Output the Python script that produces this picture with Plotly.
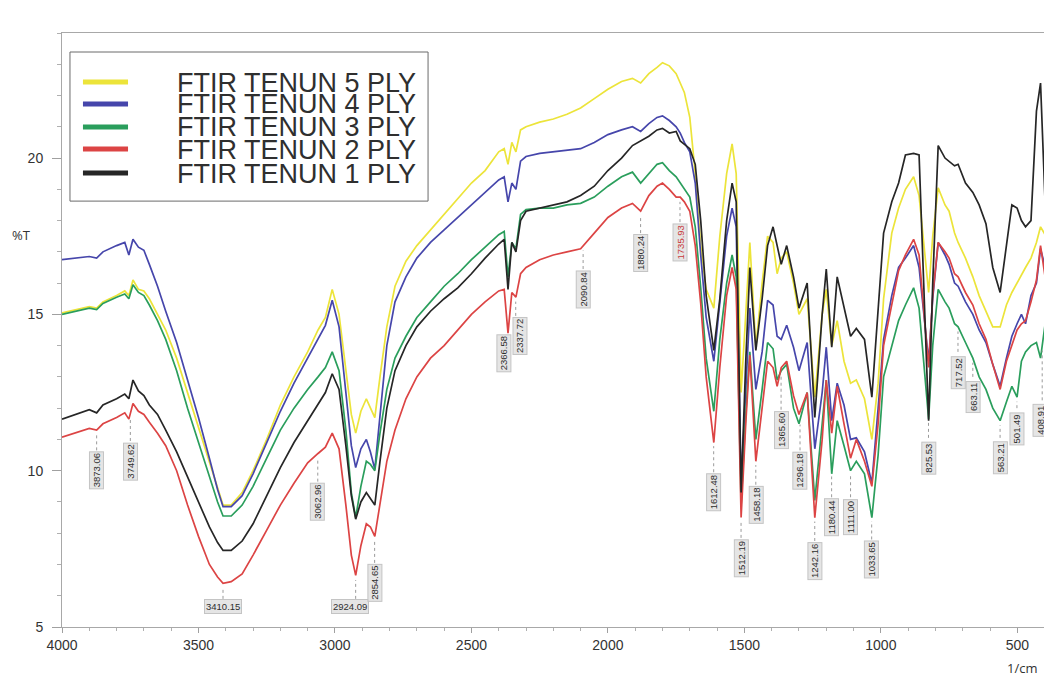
import numpy as np
import plotly.graph_objects as go

# ---------------- data ----------------
wavenumber = [4000, 3950, 3900, 3873, 3850, 3800, 3770, 3755, 3740, 3720,
              3700, 3680, 3650, 3620, 3580, 3540, 3500, 3460, 3430, 3410,
              3380, 3340, 3300, 3250, 3200, 3150, 3100, 3062, 3035, 3010,
              2985, 2960, 2940, 2924, 2905, 2885, 2870, 2854, 2835, 2810,
              2780, 2740, 2700, 2650, 2600, 2550, 2500, 2450, 2400, 2380,
              2366, 2352, 2337, 2320, 2300, 2250, 2200, 2150, 2100, 2050,
              2000, 1950, 1910, 1880, 1850, 1820, 1800, 1775, 1750, 1735,
              1720, 1700, 1680, 1660, 1640, 1612, 1590, 1565, 1545, 1530,
              1512, 1495, 1480, 1458, 1435, 1415, 1395, 1380, 1365, 1345,
              1320, 1300, 1270, 1242, 1215, 1200, 1180, 1160, 1135, 1111,
              1090, 1060, 1033, 1010, 990, 960, 935, 910, 880, 860,
              825, 810, 790, 765, 750, 730, 717, 690, 663, 640,
              615, 590, 563, 540, 520, 501, 485, 470, 450, 430,
              415, 395]

t_5ply = [15.05, 15.15, 15.25, 15.2, 15.4, 15.6, 15.75, 15.6, 16.1, 15.8,
          15.75, 15.5, 15.0, 14.5, 13.6, 12.5, 11.4, 10.3, 9.4, 8.9,
          8.9, 9.3, 10.0, 11.0, 12.1, 13.0, 13.8, 14.5, 14.9, 15.8,
          15.0, 13.2, 11.8, 11.2, 11.9, 12.3, 12.0, 11.7, 13.0, 14.6,
          15.9, 16.7, 17.2, 17.7, 18.2, 18.7, 19.2, 19.6, 20.2, 20.3,
          19.8, 20.5, 20.2, 20.9, 21.0, 21.15, 21.25, 21.4, 21.6, 21.9,
          22.2, 22.45, 22.55, 22.4, 22.7, 22.9, 23.05, 22.95, 22.7, 22.4,
          22.1, 21.3, 19.5, 17.2, 15.8, 15.2, 17.5, 19.5, 20.45, 19.5,
          12.5, 15.0, 17.3, 13.95, 16.0, 17.5, 17.3, 16.3, 16.8, 17.0,
          16.0, 15.0, 15.5, 12.35, 15.0, 15.8, 14.0, 14.8, 13.5, 12.8,
          12.9, 12.3, 11.0, 12.8, 15.5, 17.6, 18.4, 19.0, 19.4, 18.8,
          15.7, 17.5, 19.05, 18.5, 18.3, 17.6, 17.3, 16.8, 16.2, 15.6,
          15.1, 14.6, 14.6, 15.3, 15.7, 16.0, 16.3, 16.5, 16.8, 17.3,
          17.8, 17.5]

t_4ply = [16.75, 16.8, 16.85, 16.8, 17.0, 17.2, 17.3, 16.9, 17.4, 17.15,
          17.05, 16.6, 15.9, 15.1, 14.1, 12.9, 11.7, 10.4, 9.4, 8.85,
          8.85, 9.2, 9.9, 10.9, 11.9, 12.8, 13.6, 14.2, 14.65, 15.45,
          14.6, 12.5, 10.8, 10.1, 10.7, 11.0, 10.6, 10.05, 11.8, 14.0,
          15.4, 16.2, 16.8, 17.3, 17.7, 18.1, 18.5, 18.9, 19.3, 19.4,
          18.6, 19.2, 19.0, 19.9, 20.05, 20.15, 20.2, 20.25, 20.3, 20.5,
          20.75, 20.9, 21.0, 20.85, 21.1, 21.3, 21.35, 21.2, 21.0, 20.8,
          20.5, 20.2, 19.2, 16.9, 14.9, 13.5, 15.3, 17.5, 18.4, 17.8,
          9.6, 12.5, 15.2, 12.6, 13.8, 15.45, 15.3, 14.3, 14.2, 14.65,
          13.95, 13.2, 14.1, 10.7, 12.5, 13.95, 11.6, 12.8, 12.1, 11.0,
          11.05, 10.6, 9.6, 12.0, 14.2, 15.6, 16.5, 16.8, 17.2, 16.5,
          13.5, 15.5, 17.3, 16.9, 16.6, 16.0, 15.9, 15.4, 15.0, 14.5,
          14.1, 13.4, 12.7, 13.6, 14.3, 14.7, 15.0, 14.7, 15.6, 16.0,
          17.1, 16.4]

t_3ply = [15.0, 15.1, 15.2, 15.15, 15.35, 15.55, 15.65, 15.5, 15.95, 15.7,
          15.6, 15.3, 14.8, 14.2, 13.2, 12.0, 10.9, 9.8, 9.0, 8.55,
          8.55, 8.9, 9.5, 10.4, 11.3, 12.0, 12.6, 13.0, 13.3, 13.8,
          13.2, 11.3, 9.3, 8.5, 9.5, 10.3, 10.2, 10.0, 11.2, 12.6,
          13.6, 14.3, 14.9, 15.4, 15.9, 16.3, 16.75, 17.15, 17.55, 17.65,
          16.2, 17.3, 17.1, 18.2, 18.35, 18.4, 18.4, 18.5, 18.55, 18.75,
          19.1, 19.4, 19.55, 19.2, 19.5, 19.8, 19.85, 19.6, 19.4, 19.2,
          19.0, 18.75, 17.8, 15.85, 13.6, 11.9, 14.2, 16.0, 16.9, 16.2,
          8.9, 11.8, 13.8, 11.0, 12.6, 14.1, 13.9, 12.9, 13.2, 13.4,
          12.0, 11.5, 12.5, 9.05, 11.5, 12.9, 9.9, 11.6, 10.8, 10.0,
          10.3, 9.9, 8.5, 10.5, 13.0, 14.0, 14.8, 15.3, 15.85, 15.2,
          11.65, 14.0, 15.8, 15.4, 15.2, 14.7, 14.6, 14.1, 13.6, 13.0,
          12.6, 12.0, 11.6, 12.2, 12.7, 12.35, 13.5, 13.8, 14.0, 14.1,
          13.6, 14.9]

t_2ply = [11.07, 11.2, 11.35, 11.3, 11.5, 11.7, 11.85, 11.65, 12.15, 11.9,
          11.8, 11.55, 11.2, 10.8, 10.0, 8.9, 7.9, 7.0, 6.6, 6.4,
          6.45, 6.7, 7.3, 8.1, 8.9, 9.6, 10.25, 10.55, 10.75, 11.2,
          10.7, 8.9, 7.3, 6.65, 7.6, 8.3, 8.2, 7.9, 9.0, 10.3,
          11.3, 12.3, 13.0, 13.6, 14.0, 14.5, 15.0, 15.4, 15.75, 15.8,
          14.4, 15.7, 15.55, 16.3, 16.5, 16.75, 16.9, 17.0, 17.1, 17.6,
          18.1, 18.4, 18.55, 18.3, 18.8, 19.1, 19.2, 19.0, 18.75, 18.75,
          18.6, 18.3, 17.2, 15.35, 13.0, 10.9, 13.3, 15.6, 16.5, 15.8,
          8.5, 11.5, 13.7, 10.3, 12.0, 13.5, 13.3, 12.7, 13.3, 13.5,
          12.4, 11.8, 12.5, 8.5, 11.0, 12.9, 11.2, 12.7, 11.5, 10.4,
          11.0, 10.3, 9.5, 11.5, 14.0, 15.3, 16.4, 16.9, 17.4, 16.9,
          13.3, 15.6, 17.3, 17.0, 16.8, 16.3, 16.2, 15.7, 15.3, 14.7,
          14.2, 13.4, 12.6, 13.5, 14.0, 14.5, 14.7, 14.8, 15.4, 16.1,
          17.2, 16.0]

t_1ply = [11.65, 11.8, 11.95, 11.85, 12.1, 12.3, 12.45, 12.3, 12.9, 12.55,
          12.4, 12.1, 11.8, 11.3, 10.6, 9.8, 9.0, 8.2, 7.7, 7.45,
          7.45, 7.75, 8.3, 9.2, 10.1, 10.9, 11.6, 12.1, 12.5, 13.1,
          12.6, 10.8, 9.2, 8.45, 9.0, 9.3, 9.1, 8.9, 10.3, 12.0,
          13.2, 14.0, 14.6, 15.1, 15.5, 15.85, 16.3, 16.8, 17.25, 17.4,
          15.8, 17.3, 17.0, 18.0, 18.3, 18.4, 18.5, 18.6, 18.8, 19.1,
          19.6, 20.0, 20.4, 20.55, 20.7, 20.9, 20.95, 20.8, 20.85, 20.55,
          20.45, 20.3, 19.8, 18.0, 15.6, 13.85, 15.5, 18.0, 19.2, 18.6,
          9.3, 13.5, 16.5, 13.85, 15.5, 17.2, 17.8, 17.2, 16.6, 17.2,
          16.2, 15.2, 16.0, 11.7, 15.0, 16.45, 13.95, 16.2, 15.2, 14.3,
          14.55, 14.2, 12.35, 15.0, 17.6, 18.6, 19.2, 20.1, 20.15, 20.1,
          11.6, 16.0, 20.4, 20.0, 19.9, 19.75, 19.8, 19.2, 18.9, 18.5,
          17.9, 16.5, 15.7, 17.2, 18.5, 18.4, 18.0, 17.8, 18.0, 21.5,
          22.4, 17.8]

series_names = ["FTIR TENUN 5 PLY", "FTIR TENUN 4 PLY", "FTIR TENUN 3 PLY",
                "FTIR TENUN 2 PLY", "FTIR TENUN 1 PLY"]
series_values = [t_5ply, t_4ply, t_3ply, t_2ply, t_1ply]
series_colors = ["#ece43a", "#4646ab", "#2a9e5c", "#dc4444", "#262626"]

peak_labels = ["3873.06", "3749.62", "3410.15", "3062.96", "2924.09", "2854.65",
               "2366.58", "2337.72", "2090.84", "1880.24", "1735.93", "1612.48",
               "1512.19", "1458.18", "1365.60", "1296.18", "1242.16", "1180.44",
               "1111.00", "1033.65", "825.53", "717.52", "663.11", "563.21",
               "501.49", "408.91"]
# vertical placement of each label box (in %T units)
peak_label_y = [10.0, 10.3, 5.65, 9.0, 5.65, 6.4,
                13.75, 14.3, 15.8, 16.95, 17.3, 9.3,
                7.2, 8.9, 11.3, 10.0, 7.1, 8.5,
                8.5, 7.15, 10.4, 13.15, 12.35, 10.4,
                11.35, 11.6]
horizontal_labels = {"3410.15", "2924.09"}
red_labels = {"1735.93"}
label_nudge_px = {"2366.58": -4, "2337.72": 4, "2924.09": -6, "408.91": -2}

# ---------------- figure ----------------
fig = go.Figure()
for name, vals, col in zip(series_names, series_values, series_colors):
    fig.add_trace(go.Scatter(x=wavenumber, y=vals, mode="lines", name=name,
                             line=dict(color=col, width=1.7), showlegend=False))

# lowest curve at a given wavenumber (for the dotted leader lines)
wn_asc = np.array(wavenumber[::-1], dtype=float)
def lowest_at(x):
    return min(np.interp(x, wn_asc, np.array(v[::-1], dtype=float)) for v in series_values)

shapes = []
annotations = []
for lab, ly in zip(peak_labels, peak_label_y):
    x = float(lab)
    horiz = lab in horizontal_labels
    annotations.append(dict(
        x=x, y=ly, xref="x", yref="y", text=lab, showarrow=False,
        xshift=label_nudge_px.get(lab, 0),
        textangle=0 if horiz else -90,
        font=dict(size=9.5, color="#c83a3a" if lab in red_labels else "#2e2e2e",
                  family="Liberation Sans, Arial, sans-serif"),
        bgcolor="rgba(226,226,226,0.9)", bordercolor="#c4c4c4", borderwidth=1, borderpad=1))
    top = ly + (0.25 if horiz else 0.65)
    low = lowest_at(x) - 0.15
    if low > top:
        shapes.append(dict(type="line", xref="x", yref="y", x0=x, x1=x, y0=top, y1=low,
                           line=dict(color="#9a9a9a", width=1, dash="dot")))

# hand-drawn legend box (tight line spacing as in the reference)
shapes.append(dict(type="rect", xref="paper", yref="paper",
                   x0=0.0081, x1=0.372, y0=0.717, y1=0.968,
                   line=dict(color="#6a6a6a", width=1), fillcolor="white", layer="above"))
legend_rows = [0.9175, 0.8805, 0.8418, 0.8047, 0.7643]
for name, col, yy in zip(series_names, series_colors, legend_rows):
    shapes.append(dict(type="line", xref="paper", yref="paper", x0=0.0213, x1=0.0671,
                       y0=yy, y1=yy, line=dict(color=col, width=5), layer="above"))
    annotations.append(dict(x=0.3618, y=yy, xref="paper", yref="paper", text=name,
                            showarrow=False, xanchor="right", yanchor="middle",
                            height=21, valign="middle",
                            font=dict(size=27, color="#2f2f2f",
                                      family="Liberation Sans, Arial, sans-serif")))

annotations.append(dict(x=-0.0407, y=0.66, xref="paper", yref="paper", text="%T",
                        showarrow=False, xanchor="center", yanchor="middle",
                        font=dict(size=13, color="#333")))
annotations.append(dict(x=0.9756, y=-0.069, xref="paper", yref="paper", text="1/cm",
                        showarrow=False, xanchor="center", yanchor="middle",
                        font=dict(size=13, color="#333")))

axis_common = dict(showline=True, linecolor="#a8a8a8", linewidth=1, mirror=True,
                   showgrid=False, zeroline=False, ticks="outside", tickcolor="#a0a0a0",
                   tickfont=dict(size=14, color="#333",
                                 family="Liberation Sans, Arial, sans-serif"))
# the page puts the figure 8 px from the window's top-left corner
fig.update_layout(
    width=1044, height=673,
    margin=dict(l=54, r=6, t=25, b=54, autoexpand=False),
    plot_bgcolor="white", paper_bgcolor="white",
    showlegend=False,
    xaxis=dict(range=[4000, 395], tickmode="linear", tick0=0, dtick=500, ticklen=5,
               minor=dict(dtick=100, tick0=0, ticks="outside", ticklen=3, tickcolor="#b0b0b0"),
               **axis_common),
    yaxis=dict(range=[5, 24], tickmode="linear", tick0=0, dtick=5, ticklen=9,
               ticklabelstandoff=6,
               minor=dict(dtick=1, tick0=0, ticks="outside", ticklen=4, tickcolor="#b0b0b0"),
               **axis_common),
    shapes=shapes,
    annotations=annotations,
)

fig.write_html("out.html")
